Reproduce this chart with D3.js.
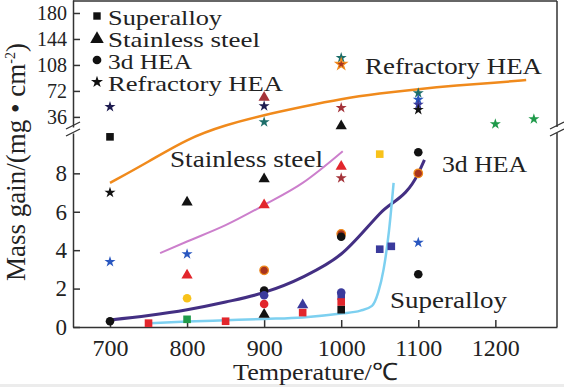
<!DOCTYPE html>
<meta charset="utf-8">
<style>
body { margin: 0; background: #fff; }
text { font-family: "Liberation Serif", "Times New Roman", serif; fill: #222; }
</style>
<body>
<script src="https://d3js.org/d3.v7.min.js"></script>
<script>
var width = 564,
    height = 387;

// axis ticks (the y axis is broken in two parts)
var xTicks = [700, 800, 900, 1000, 1100, 1200];
var yTicksLow = [0, 2, 4, 6, 8];
var yTicksHigh = [36, 72, 108, 144, 180];

// points: [temperature, mass gain, source]
var superalloy = [
  [700, 9.9, "k"], [750, 0.2, "r"], [800, 0.4, "g"], [850, 0.3, "r"],
  [950, 0.75, "r"], [1000, 1.6, "p"], [1000, 1.3, "r"], [1000, 0.9, "k"],
  [1050, 9.0, "y"], [1050, 4.05, "p"], [1065, 4.2, "p"]
];
var stainless = [
  [800, 6.5, "k"], [800, 2.7, "r"], [900, 63, "dr"], [900, 7.7, "k"],
  [900, 6.35, "r"], [900, 0.65, "k"], [950, 1.15, "p"], [1000, 23.5, "k"],
  [1000, 8.35, "r"]
];
var hea3d = [
  [700, 0.3, "k"], [800, 1.5, "y"], [900, 2.95, "o"], [900, 1.9, "k"],
  [900, 1.65, "p"], [900, 1.2, "r"], [1000, 4.85, "o"], [1000, 4.7, "k"],
  [1000, 1.8, "p"], [1100, 9.1, "k"], [1100, 8.0, "o"], [1100, 2.75, "k"]
];
var refractory = [
  [700, 50, "n"], [700, 7.0, "k"], [700, 3.4, "b"], [800, 3.8, "b"],
  [900, 51, "n"], [900, 29, "t"], [1000, 118, "t"], [1000, 109, "o"],
  [1000, 48.5, "dr"], [1000, 7.75, "dr"], [1100, 69, "t"], [1100, 60, "b"],
  [1100, 53, "p"], [1100, 46, "k"], [1100, 4.4, "b"], [1200, 26, "g"],
  [1250, 33, "g"]
];

// fitted trend curves: [temperature, mass gain]
var refractoryFit = [[700, 7.5], [750, 8.6], [800, 9.8], [850, 25], [900, 38.6],
  [950, 50], [1000, 61], [1050, 68.5], [1100, 74.7], [1150, 79.5], [1200, 83.5], [1240, 87]];
var stainlessFit = [[765, 3.85], [800, 4.45], [850, 5.3], [900, 6.35], [950, 7.5], [1002, 9.15]];
var hea3dFit = [[700, 0.37], [750, 0.6], [800, 0.9], [850, 1.3], [900, 1.8], [950, 2.6],
  [1000, 3.8], [1050, 5.9], [1100, 8.0], [1108, 8.7]];
var superalloyFit = [[752, 0.2], [800, 0.28], [850, 0.35], [900, 0.42], [950, 0.5],
  [1000, 0.7], [1025, 0.85], [1040, 1.1], [1048, 1.8], [1055, 3.0], [1062, 5.0], [1068, 7.5]];

var names = ["Superalloy", "Stainless steel", "3d HEA", "Refractory HEA"];

var fills = {k: "#121212", r: "#e2262c", dr: "#a4333a", n: "#1d1b4f", b: "#2957c0",
  t: "#1d6e6a", y: "#f8c21a", g: "#1f9a4a", p: "#3a3a9c", o: "#a8341f"};
var strokes = {o: "#f08a1c"};

var svg = d3.select("body").append("svg")
    .attr("width", width)
    .attr("height", height);

var x = d3.scaleLinear().domain([652, 1280]).range([73, 557]);
var yLow = d3.scaleLinear().domain([0, 10.1]).range([327, 133]);
var yHigh = d3.scaleLinear().domain([22, 198]).range([127, 0]);
function y(v) {
  if (v <= 10.1) return yLow(v);
  if (v >= 22) return yHigh(v);
  return yLow(10.1) - (v - 10.1) / (22 - 10.1) * (yLow(10.1) - yHigh(22));
}

svg.append("rect").attr("x", 0).attr("y", 384).attr("width", width).attr("height", 3)
    .style("fill", "#ececec");

// axes
var frame = "#333";
var xAxis = svg.append("g").attr("transform", "translate(0,327)")
    .call(d3.axisBottom(x).tickValues(xTicks).tickFormat(d3.format("d"))
      .tickSizeInner(-7).tickSizeOuter(0).tickPadding(12));
var yAxisLow = svg.append("g").attr("transform", "translate(73,0)")
    .call(d3.axisLeft(yLow).tickValues(yTicksLow).tickSizeInner(-7).tickSizeOuter(0).tickPadding(6));
var yAxisHigh = svg.append("g").attr("transform", "translate(73,0)")
    .call(d3.axisLeft(yHigh).tickValues(yTicksHigh).tickSizeInner(-7).tickSizeOuter(0).tickPadding(6));
[xAxis, yAxisLow, yAxisHigh].forEach(function(g) {
  g.attr("font-family", null).attr("font-size", null);
  g.selectAll("path, line").style("stroke", frame).style("stroke-width", 1.5);
});
xAxis.selectAll("text").style("font-size", "24px").style("fill", "#222");
yAxisLow.selectAll("text").style("font-size", "23px").style("fill", "#222");
yAxisHigh.selectAll("text").style("font-size", "20px").style("fill", "#222");

// top and right border, with the break on the right
svg.append("line").attr("x1", 73).attr("x2", 557).attr("y1", 1).attr("y2", 1)
    .style("stroke", frame).style("stroke-width", 1.5);
svg.append("line").attr("x1", 557).attr("x2", 557).attr("y1", 1).attr("y2", 127)
    .style("stroke", frame).style("stroke-width", 1.5);
svg.append("line").attr("x1", 557).attr("x2", 557).attr("y1", 133).attr("y2", 327)
    .style("stroke", frame).style("stroke-width", 1.5);
[73, 557].forEach(function(bx) {
  [126, 133].forEach(function(by) {
    svg.append("line")
        .attr("x1", bx - 7).attr("y1", by + 3)
        .attr("x2", bx + 7).attr("y2", by - 4)
        .style("stroke", frame).style("stroke-width", 1.3);
  });
});

// trend curves
var line = d3.line()
    .x(function(d) { return x(d[0]); })
    .y(function(d) { return y(d[1]); })
    .curve(d3.curveMonotoneX);
var smooth = d3.line()
    .x(function(d) { return x(d[0]); })
    .y(function(d) { return y(d[1]); })
    .curve(d3.curveBasis);
[[refractoryFit, "#f08a1c", 2.5, smooth], [stainlessFit, "#cc7fcc", 2, line],
 [hea3dFit, "#432f83", 3, line], [superalloyFit, "#7dd0f0", 2.5, line]].forEach(function(c) {
  svg.append("path").datum(c[0]).attr("d", c[3])
      .style("fill", "none").style("stroke", c[1]).style("stroke-width", c[2]);
});

// points
var shapes = [[superalloy, d3.symbolSquare, 58], [stainless, d3.symbolTriangle, 55],
  [hea3d, d3.symbolCircle, 58], [refractory, d3.symbolStar, 38]];
shapes.forEach(function(s) {
  svg.append("g").selectAll("path")
    .data(s[0])
    .enter().append("path")
      .attr("d", d3.symbol().type(s[1]).size(s[2]))
      .attr("transform", function(d) { return "translate(" + x(d[0]) + "," + y(d[1]) + ")"; })
      .style("fill", function(d) { return fills[d[2]]; })
      .style("stroke", function(d) { return strokes[d[2]] || "none"; })
      .style("stroke-width", 1.2);
});

// legend
var legend = svg.append("g");
var legendWidths = [114, 152, 84, 175];
var legendSizes = [55, 80, 60, 45];
shapes.forEach(function(s, i) {
  var ly = 16 + i * 22;
  legend.append("path")
      .attr("d", d3.symbol().type(s[1]).size(legendSizes[i]))
      .attr("transform", "translate(97," + (ly + (i == 1 ? 1 : 0)) + ")")
      .style("fill", "#111");
  legend.append("text")
      .attr("x", 108).attr("y", ly + 9)
      .attr("textLength", legendWidths[i]).attr("lengthAdjust", "spacingAndGlyphs")
      .style("font-size", "21px")
      .text(names[i]);
});

// curve labels
[[names[3], 365, 74, 177], [names[1], 170, 167, 153],
 [names[2], 442, 172, 85], [names[0], 390, 308, 117]].forEach(function(l) {
  svg.append("text").attr("x", l[1]).attr("y", l[2])
      .attr("textLength", l[3]).attr("lengthAdjust", "spacingAndGlyphs")
      .style("font-size", "23px")
      .text(l[0]);
});

// axis titles
svg.append("text")
    .attr("x", 233).attr("y", 380)
    .attr("textLength", 165).attr("lengthAdjust", "spacingAndGlyphs")
    .style("font-size", "24px")
    .text("Temperature/℃");
var yl = svg.append("text")
    .attr("transform", "translate(25,162) rotate(-90)")
    .attr("text-anchor", "middle")
    .style("font-size", "27px");
yl.append("tspan").text("Mass gain/(mg • cm");
yl.append("tspan").attr("dy", -10).style("font-size", "14px").text("-2");
yl.append("tspan").attr("dy", 10).text(")");
</script>
</body>
</html>
